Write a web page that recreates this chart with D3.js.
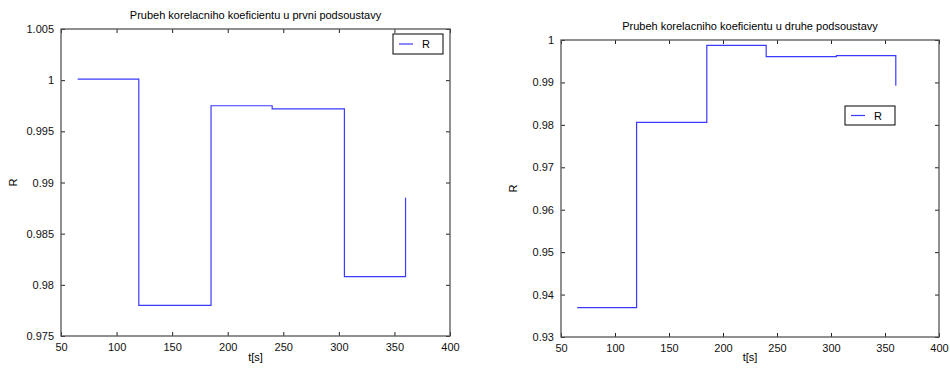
<!DOCTYPE html>
<html>
<head>
<meta charset="utf-8">
<script src="https://cdn.jsdelivr.net/npm/d3@7"></script>
<style>
body { margin: 0; background: #fff; }
svg { display: block; font-family: "Liberation Sans", Arial, sans-serif; }
</style>
</head>
<body>
<script>
// data
var timeSteps = [65, 120, 185, 240, 305, 360];
var rFirst = [1.0001, 0.978, 0.9975, 0.9972, 0.9808, 0.9885];
var rSecond = [0.9369, 0.9806, 0.99875, 0.9961, 0.9963, 0.9892];

var xTicks = [50, 100, 150, 200, 250, 300, 350, 400];
var yTicksFirst = [0.975, 0.98, 0.985, 0.99, 0.995, 1, 1.005];
var yTicksSecond = [0.93, 0.94, 0.95, 0.96, 0.97, 0.98, 0.99, 1];

var titleFirst = "Prubeh korelacniho koeficientu u prvni podsoustavy";
var titleSecond = "Prubeh korelacniho koeficientu u druhe podsoustavy";

var svg = d3.select("body").append("svg")
    .attr("width", 950)
    .attr("height", 368);

// one panel per subsystem
var panels = [
    {title: titleFirst, values: rFirst, yTicks: yTicksFirst,
     left: 61, right: 450, top: 29, bottom: 336, titleY: 19,
     legend: {x: 393, y: 34, w: 50, h: 20}},
    {title: titleSecond, values: rSecond, yTicks: yTicksSecond,
     left: 561, right: 939, top: 40, bottom: 337, titleY: 30,
     legend: {x: 845, y: 106, w: 50, h: 19}}
];

panels.forEach(drawPanel);

function drawPanel(p){
    var yExtent = d3.extent(p.yTicks);

    var x = d3.scaleLinear().domain([50, 400]).range([p.left, p.right]);
    var y = d3.scaleLinear().domain(yExtent).range([p.bottom, p.top]);

    var g = svg.append("g");

    // ticks on all four sides, pointing in (matlab style)
    g.append("g")
        .attr("transform", "translate(0," + p.bottom + ")")
        .call(d3.axisBottom(x).tickValues(xTicks).tickSizeInner(-4).tickSizeOuter(0).tickPadding(7))
        .call(styleAxis);
    g.append("g")
        .attr("transform", "translate(0," + p.top + ")")
        .call(d3.axisTop(x).tickValues(xTicks).tickSizeInner(-4).tickSizeOuter(0).tickFormat(""))
        .call(styleAxis);
    g.append("g")
        .attr("transform", "translate(" + p.left + ",0)")
        .call(d3.axisLeft(y).tickValues(p.yTicks).tickSizeInner(-4).tickSizeOuter(0).tickPadding(7)
            .tickFormat(d3.format("~g")))
        .call(styleAxis);
    g.append("g")
        .attr("transform", "translate(" + p.right + ",0)")
        .call(d3.axisRight(y).tickValues(p.yTicks).tickSizeInner(-4).tickSizeOuter(0).tickFormat(""))
        .call(styleAxis);

    // box
    g.append("rect")
        .attr("x", p.left)
        .attr("y", p.top)
        .attr("width", p.right - p.left)
        .attr("height", p.bottom - p.top)
        .attr("fill", "none")
        .attr("stroke", "#555")
        .attr("stroke-width", 1.3);

    // step line
    var line = d3.line()
        .x(function(d, i){ return x(timeSteps[i]); })
        .y(function(d){ return y(d); })
        .curve(d3.curveStepAfter);

    g.append("path")
        .datum(p.values)
        .attr("d", line)
        .attr("fill", "none")
        .attr("stroke", "#3a3aff")
        .attr("stroke-width", 1.2);

    // titles and labels
    g.append("text")
        .attr("x", (p.left + p.right) / 2)
        .attr("y", p.titleY)
        .attr("text-anchor", "middle")
        .style("font-size", "11px")
        .text(p.title);

    g.append("text")
        .attr("x", (p.left + p.right) / 2)
        .attr("y", 361)
        .attr("text-anchor", "middle")
        .style("font-size", "11px")
        .text("t[s]");

    g.append("text")
        .attr("transform", "translate(" + (p.left - 44) + "," + ((p.top + p.bottom) / 2) + ") rotate(-90)")
        .attr("text-anchor", "middle")
        .style("font-size", "11px")
        .text("R");

    // legend
    var lg = p.legend;
    g.append("rect")
        .attr("x", lg.x).attr("y", lg.y)
        .attr("width", lg.w).attr("height", lg.h)
        .attr("fill", "#fff")
        .attr("stroke", "#000")
        .attr("stroke-width", 1);
    g.append("line")
        .attr("x1", lg.x + 6).attr("x2", lg.x + 20)
        .attr("y1", lg.y + lg.h / 2).attr("y2", lg.y + lg.h / 2)
        .attr("stroke", "#3a3aff")
        .attr("stroke-width", 1.2);
    g.append("text")
        .attr("x", lg.x + 33)
        .attr("y", lg.y + lg.h / 2 + 4)
        .attr("text-anchor", "middle")
        .style("font-size", "11px")
        .text("R");
}

function styleAxis(sel){
    sel.select(".domain").remove();
    sel.selectAll(".tick line").attr("stroke", "#222");
    sel.selectAll(".tick text")
        .attr("fill", "#111")
        .style("font-size", "11px")
        .style("font-family", "'Liberation Sans', Arial, sans-serif");
}
</script>
</body>
</html>
